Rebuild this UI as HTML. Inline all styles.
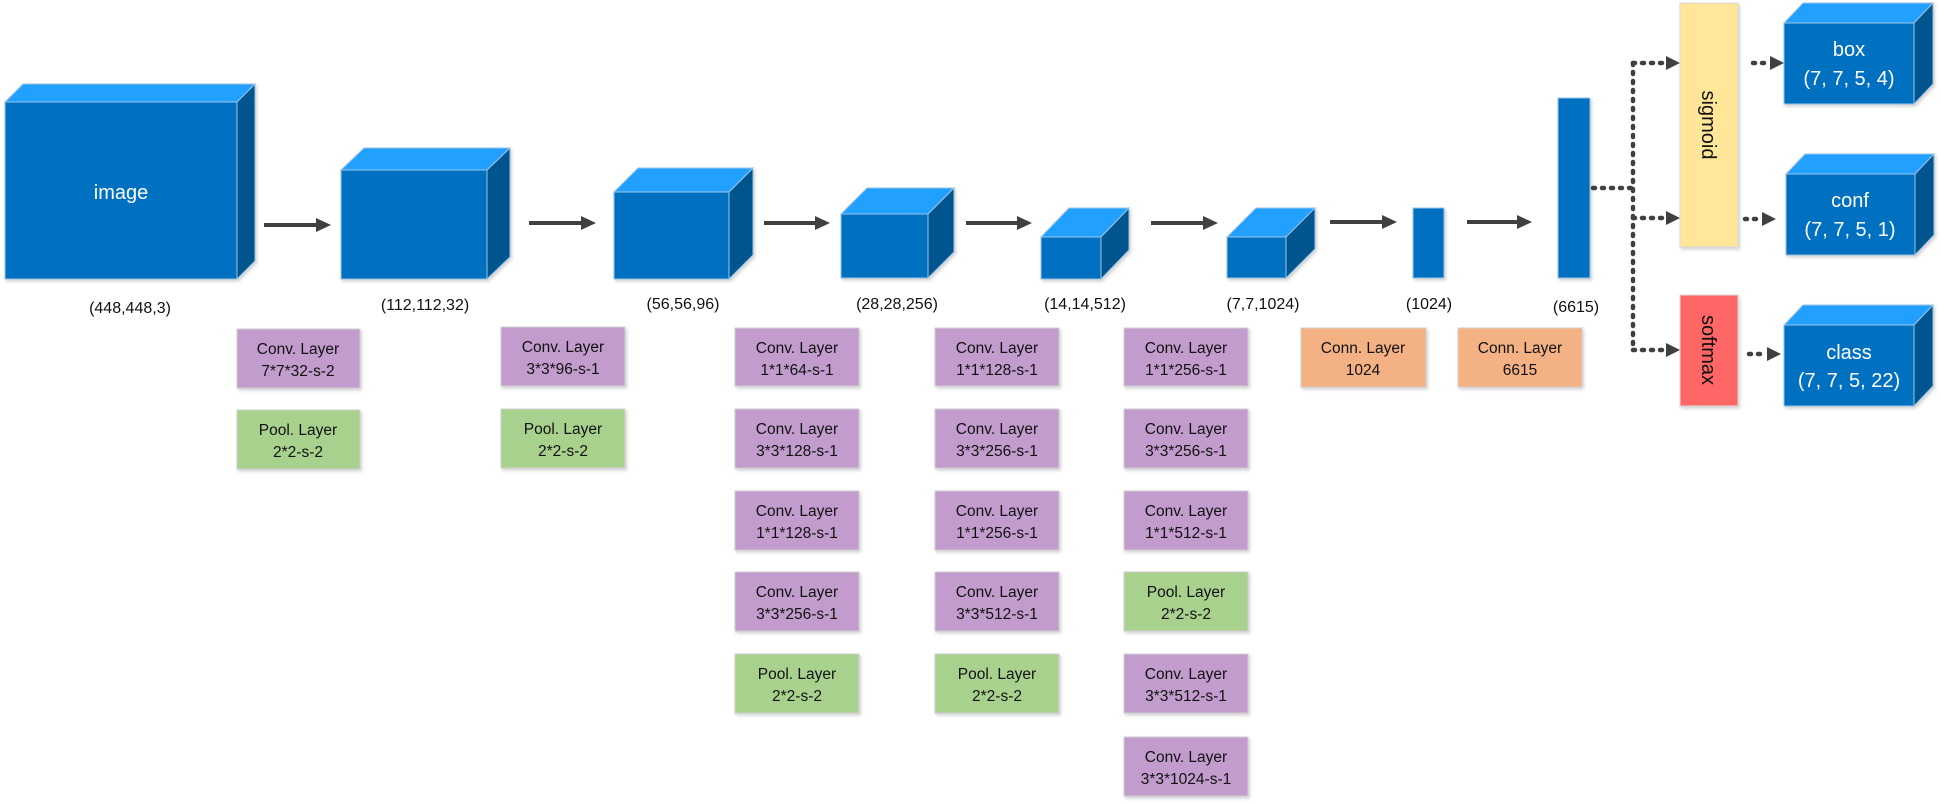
<!DOCTYPE html>
<html><head><meta charset="utf-8"><style>
html,body{margin:0;padding:0;background:#fff;}
svg{display:block;}
text{font-family:"Liberation Sans",sans-serif;}
.lb{font-size:16px;fill:#111;text-anchor:middle;}
.bx{font-size:15.5px;fill:#111;text-anchor:middle;}
.wt{fill:#fff;text-anchor:middle;font-size:20px;}
</style></head><body>
<svg width="1941" height="803" viewBox="0 0 1941 803" xmlns="http://www.w3.org/2000/svg">
<defs>
<filter id="sh" x="-10%" y="-10%" width="130%" height="130%"><feDropShadow dx="1.5" dy="2" stdDeviation="1.5" flood-color="#000" flood-opacity="0.18"/></filter>
</defs>
<g filter="url(#sh)" stroke="#9dc3e6" stroke-width="1">
<rect x="5" y="102" width="232" height="177" fill="#0070c0"/>
<polygon points="5,102 23,84 255,84 237,102" fill="#22a0ff"/>
<polygon points="237,102 255,84 255,261 237,279" fill="#00558f"/>
<rect x="341" y="170" width="146" height="109" fill="#0070c0"/>
<polygon points="341,170 364,148 510,148 487,170" fill="#22a0ff"/>
<polygon points="487,170 510,148 510,257 487,279" fill="#00558f"/>
<rect x="614" y="192" width="115" height="87" fill="#0070c0"/>
<polygon points="614,192 638,168 753,168 729,192" fill="#22a0ff"/>
<polygon points="729,192 753,168 753,255 729,279" fill="#00558f"/>
<rect x="841" y="214" width="87" height="64" fill="#0070c0"/>
<polygon points="841,214 867,188 954,188 928,214" fill="#22a0ff"/>
<polygon points="928,214 954,188 954,252 928,278" fill="#00558f"/>
<rect x="1041" y="237" width="60" height="42" fill="#0070c0"/>
<polygon points="1041,237 1069,208 1129,208 1101,237" fill="#22a0ff"/>
<polygon points="1101,237 1129,208 1129,250 1101,279" fill="#00558f"/>
<rect x="1227" y="237" width="59" height="41" fill="#0070c0"/>
<polygon points="1227,237 1256,208 1315,208 1286,237" fill="#22a0ff"/>
<polygon points="1286,237 1315,208 1315,249 1286,278" fill="#00558f"/>
<rect x="1413" y="208" width="31" height="70" fill="#0070c0"/>
<rect x="1558" y="98" width="32" height="180" fill="#0070c0"/>
<rect x="1784" y="23" width="130" height="81" fill="#0070c0"/>
<polygon points="1784,23 1803,3 1933,3 1914,23" fill="#22a0ff"/>
<polygon points="1914,23 1933,3 1933,84 1914,104" fill="#00558f"/>
<rect x="1786" y="174" width="129" height="81" fill="#0070c0"/>
<polygon points="1786,174 1805,154 1934,154 1915,174" fill="#22a0ff"/>
<polygon points="1915,174 1934,154 1934,235 1915,255" fill="#00558f"/>
<rect x="1784" y="325" width="130" height="81" fill="#0070c0"/>
<polygon points="1784,325 1803,305 1933,305 1914,325" fill="#22a0ff"/>
<polygon points="1914,325 1933,305 1933,386 1914,406" fill="#00558f"/>
</g>
<text class="wt" x="121" y="199">image</text>
<text class="wt" x="1849" y="56">box</text>
<text class="wt" x="1849" y="85">(7, 7, 5, 4)</text>
<text class="wt" x="1850" y="207">conf</text>
<text class="wt" x="1850" y="236">(7, 7, 5, 1)</text>
<text class="wt" x="1849" y="359">class</text>
<text class="wt" x="1849" y="387">(7, 7, 5, 22)</text>

<text class="lb" x="130" y="313">(448,448,3)</text>
<text class="lb" x="425" y="310">(112,112,32)</text>
<text class="lb" x="683" y="309">(56,56,96)</text>
<text class="lb" x="897" y="309">(28,28,256)</text>
<text class="lb" x="1085" y="309">(14,14,512)</text>
<text class="lb" x="1263" y="309">(7,7,1024)</text>
<text class="lb" x="1429" y="309">(1024)</text>
<text class="lb" x="1576" y="312">(6615)</text>

<g stroke="#404040" stroke-width="4" fill="#404040">
<line x1="264" y1="225" x2="318" y2="225"/><polygon points="316,218 331,225 316,232" stroke="none"/>
<line x1="529" y1="223" x2="583" y2="223"/><polygon points="581,216 596,223 581,230" stroke="none"/>
<line x1="764" y1="223" x2="817" y2="223"/><polygon points="815,216 830,223 815,230" stroke="none"/>
<line x1="966" y1="223" x2="1019" y2="223"/><polygon points="1017,216 1032,223 1017,230" stroke="none"/>
<line x1="1151" y1="223" x2="1205" y2="223"/><polygon points="1203,216 1218,223 1203,230" stroke="none"/>
<line x1="1330" y1="222" x2="1384" y2="222"/><polygon points="1382,215 1397,222 1382,229" stroke="none"/>
<line x1="1467" y1="222" x2="1519" y2="222"/><polygon points="1517,215 1532,222 1517,229" stroke="none"/>
</g>

<g stroke="#404040" stroke-width="4.5" fill="none" stroke-dasharray="2 7" stroke-linecap="round">
<polyline points="1593,188 1633,188"/>
<polyline points="1633,63 1633,350"/>
<polyline points="1633,63 1665,63"/>
<polyline points="1633,218 1665,218"/>
<polyline points="1633,350 1665,350"/>
<polyline points="1753,63 1770,63"/>
<polyline points="1745,219 1762,219"/>
<polyline points="1749,354 1766,354"/>
</g>
<g fill="#404040">
<polygon points="1666,56 1680,63 1666,70"/>
<polygon points="1666,211 1680,218 1666,225"/>
<polygon points="1666,343 1680,350 1666,357"/>
<polygon points="1770,56 1784,63 1770,70"/>
<polygon points="1762,212 1776,219 1762,226"/>
<polygon points="1767,347 1781,354 1767,361"/>
</g>

<g filter="url(#sh)" stroke="#d9d9d9" stroke-width="1">
<rect x="1680" y="3" width="58" height="244" fill="#ffe699"/>
<rect x="1680" y="295" width="58" height="111" fill="#ff6666"/>
</g>
<text x="0" y="0" transform="translate(1702,125) rotate(90)" style="font-size:20px;fill:#111;text-anchor:middle">sigmoid</text>
<text x="0" y="0" transform="translate(1702,350) rotate(90)" style="font-size:20px;fill:#111;text-anchor:middle">softmax</text>

<g filter="url(#sh)" stroke="#d0d0d0" stroke-width="1">
<rect x="237" y="329" width="123" height="59" fill="#c29ccd"/>
<rect x="237" y="410" width="123" height="59" fill="#a9d18e"/>
<rect x="501" y="327" width="124" height="59" fill="#c29ccd"/>
<rect x="501" y="409" width="124" height="59" fill="#a9d18e"/>
<rect x="735" y="328" width="124" height="58" fill="#c29ccd"/>
<rect x="735" y="409" width="124" height="59" fill="#c29ccd"/>
<rect x="735" y="491" width="124" height="59" fill="#c29ccd"/>
<rect x="735" y="572" width="124" height="59" fill="#c29ccd"/>
<rect x="735" y="654" width="124" height="59" fill="#a9d18e"/>
<rect x="935" y="328" width="124" height="58" fill="#c29ccd"/>
<rect x="935" y="409" width="124" height="59" fill="#c29ccd"/>
<rect x="935" y="491" width="124" height="59" fill="#c29ccd"/>
<rect x="935" y="572" width="124" height="59" fill="#c29ccd"/>
<rect x="935" y="654" width="124" height="59" fill="#a9d18e"/>
<rect x="1124" y="328" width="124" height="58" fill="#c29ccd"/>
<rect x="1124" y="409" width="124" height="59" fill="#c29ccd"/>
<rect x="1124" y="491" width="124" height="59" fill="#c29ccd"/>
<rect x="1124" y="572" width="124" height="59" fill="#a9d18e"/>
<rect x="1124" y="654" width="124" height="59" fill="#c29ccd"/>
<rect x="1124" y="737" width="124" height="59" fill="#c29ccd"/>
<rect x="1301" y="328" width="125" height="59" fill="#f4b183"/>
<rect x="1458" y="328" width="124" height="59" fill="#f4b183"/>
</g>
<g>
<text class="bx" x="298" y="354">Conv. Layer</text><text class="bx" x="298" y="376">7*7*32-s-2</text>
<text class="bx" x="298" y="435">Pool. Layer</text><text class="bx" x="298" y="457">2*2-s-2</text>
<text class="bx" x="563" y="352">Conv. Layer</text><text class="bx" x="563" y="374">3*3*96-s-1</text>
<text class="bx" x="563" y="434">Pool. Layer</text><text class="bx" x="563" y="456">2*2-s-2</text>
<text class="bx" x="797" y="353">Conv. Layer</text><text class="bx" x="797" y="375">1*1*64-s-1</text>
<text class="bx" x="797" y="434">Conv. Layer</text><text class="bx" x="797" y="456">3*3*128-s-1</text>
<text class="bx" x="797" y="516">Conv. Layer</text><text class="bx" x="797" y="538">1*1*128-s-1</text>
<text class="bx" x="797" y="597">Conv. Layer</text><text class="bx" x="797" y="619">3*3*256-s-1</text>
<text class="bx" x="797" y="679">Pool. Layer</text><text class="bx" x="797" y="701">2*2-s-2</text>
<text class="bx" x="997" y="353">Conv. Layer</text><text class="bx" x="997" y="375">1*1*128-s-1</text>
<text class="bx" x="997" y="434">Conv. Layer</text><text class="bx" x="997" y="456">3*3*256-s-1</text>
<text class="bx" x="997" y="516">Conv. Layer</text><text class="bx" x="997" y="538">1*1*256-s-1</text>
<text class="bx" x="997" y="597">Conv. Layer</text><text class="bx" x="997" y="619">3*3*512-s-1</text>
<text class="bx" x="997" y="679">Pool. Layer</text><text class="bx" x="997" y="701">2*2-s-2</text>
<text class="bx" x="1186" y="353">Conv. Layer</text><text class="bx" x="1186" y="375">1*1*256-s-1</text>
<text class="bx" x="1186" y="434">Conv. Layer</text><text class="bx" x="1186" y="456">3*3*256-s-1</text>
<text class="bx" x="1186" y="516">Conv. Layer</text><text class="bx" x="1186" y="538">1*1*512-s-1</text>
<text class="bx" x="1186" y="597">Pool. Layer</text><text class="bx" x="1186" y="619">2*2-s-2</text>
<text class="bx" x="1186" y="679">Conv. Layer</text><text class="bx" x="1186" y="701">3*3*512-s-1</text>
<text class="bx" x="1186" y="762">Conv. Layer</text><text class="bx" x="1186" y="784">3*3*1024-s-1</text>
<text class="bx" x="1363" y="353">Conn. Layer</text><text class="bx" x="1363" y="375">1024</text>
<text class="bx" x="1520" y="353">Conn. Layer</text><text class="bx" x="1520" y="375">6615</text>
</g>
</svg>
</body></html>
